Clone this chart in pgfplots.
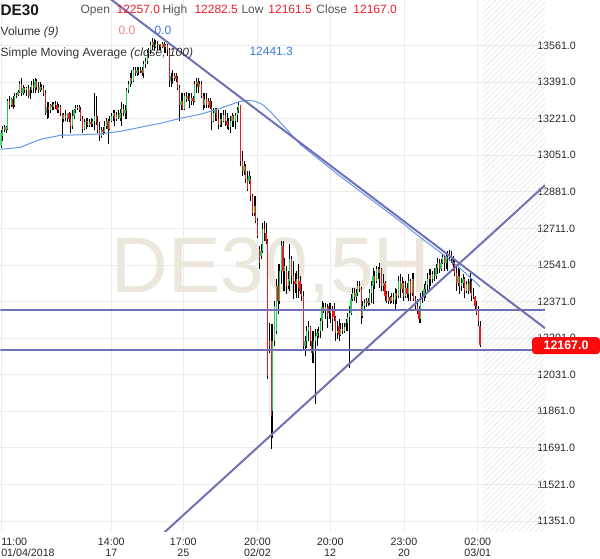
\documentclass[border=0pt]{standalone}
\usepackage{pgfplots}
\pgfplotsset{compat=1.18}
\usepackage{pgfplotstable}
\usepackage{fontspec}
\setmainfont{Liberation Sans}
\usetikzlibrary{patterns.meta}
\definecolor{cgreen}{RGB}{45,200,90}
\definecolor{cred}{RGB}{240,25,25}
\definecolor{trend}{RGB}{112,112,180}
\definecolor{sma}{RGB}{100,150,235}
\definecolor{hred}{RGB}{235,30,40}
\definecolor{hgray}{RGB}{85,85,85}
\definecolor{salmon}{RGB}{240,130,130}
\definecolor{hblue}{RGB}{60,120,220}
\definecolor{wm}{RGB}{236,231,220}
\definecolor{gridc}{RGB}{236,236,236}
\definecolor{hatch}{RGB}{228,228,228}
\definecolor{pricered}{RGB}{250,10,10}
\pgfplotstableread{
i o h l c
0 13096 13166 13086 13152
1 13142 13189 13119 13175
2 13184 13193 13161 13170
3 13170 13189 13156 13180
4 13175 13314 13166 13305
5 13305 13328 13268 13286
6 13286 13319 13277 13310
7 13310 13324 13268 13277
8 13286 13342 13277 13328
9 13333 13342 13319 13328
10 13333 13356 13324 13347
11 13347 13398 13338 13380
12 13380 13408 13328 13342
13 13342 13375 13333 13361
14 13361 13370 13338 13352
15 13352 13370 13324 13361
16 13361 13375 13319 13328
17 13328 13370 13314 13352
18 13352 13398 13338 13375
19 13375 13403 13342 13361
20 13361 13412 13342 13398
21 13398 13403 13352 13370
22 13370 13389 13342 13352
23 13352 13389 13347 13370
24 13370 13384 13352 13361
25 13361 13375 13328 13342
26 13342 13352 13240 13249
27 13249 13296 13221 13277
28 13277 13296 13226 13259
29 13259 13291 13249 13286
30 13286 13300 13259 13277
31 13277 13296 13263 13291
32 13291 13305 13268 13282
33 13282 13296 13249 13259
34 13259 13291 13249 13277
35 13277 13286 13235 13245
36 13245 13249 13133 13221
37 13221 13249 13203 13240
38 13240 13259 13212 13226
39 13226 13249 13207 13245
40 13245 13254 13203 13217
41 13217 13245 13156 13189
42 13189 13259 13175 13235
43 13235 13268 13221 13259
44 13259 13282 13249 13272
45 13272 13286 13259 13277
46 13277 13286 13254 13263
47 13263 13277 13212 13221
48 13221 13235 13156 13175
49 13175 13217 13166 13203
50 13203 13226 13175 13212
51 13212 13226 13180 13193
52 13193 13221 13180 13207
53 13207 13226 13180 13198
54 13198 13221 13180 13212
55 13212 13342 13166 13235
56 13235 13328 13193 13203
57 13203 13235 13156 13166
58 13166 13203 13119 13142
59 13142 13184 13133 13170
60 13170 13184 13147 13161
61 13161 13212 13152 13189
62 13189 13226 13175 13212
63 13212 13221 13105 13175
64 13175 13235 13166 13212
65 13212 13249 13203 13235
66 13235 13259 13212 13245
67 13245 13259 13189 13221
68 13221 13254 13212 13240
69 13240 13259 13217 13226
70 13226 13268 13212 13249
71 13249 13296 13189 13268
72 13268 13291 13235 13245
73 13245 13286 13221 13259
74 13259 13361 13221 13352
75 13352 13398 13342 13384
76 13384 13435 13370 13408
77 13408 13445 13380 13398
78 13398 13459 13389 13445
79 13445 13463 13417 13435
80 13435 13459 13421 13449
81 13449 13463 13426 13440
82 13440 13459 13431 13445
83 13445 13463 13421 13431
84 13431 13491 13408 13473
85 13473 13505 13454 13491
86 13491 13538 13477 13524
87 13524 13547 13505 13538
88 13538 13575 13519 13561
89 13561 13594 13538 13575
90 13575 13589 13538 13556
91 13556 13584 13547 13570
92 13570 13580 13538 13561
93 13561 13570 13538 13566
94 13566 13570 13542 13556
95 13556 13575 13547 13566
96 13566 13575 13528 13552
97 13552 13570 13524 13561
98 13561 13570 13514 13538
99 13538 13547 13366 13398
100 13398 13435 13366 13417
101 13417 13445 13384 13408
102 13408 13431 13398 13417
103 13417 13431 13389 13403
104 13403 13421 13352 13361
105 13361 13375 13212 13282
106 13282 13342 13259 13305
107 13305 13342 13259 13268
108 13268 13342 13259 13324
109 13324 13347 13296 13314
110 13314 13342 13305 13328
111 13328 13338 13272 13305
112 13305 13338 13282 13319
113 13319 13328 13282 13305
114 13305 13398 13296 13380
115 13380 13408 13342 13389
116 13389 13408 13342 13370
117 13370 13398 13366 13384
118 13384 13398 13319 13328
119 13328 13342 13259 13282
120 13282 13342 13272 13314
121 13314 13338 13272 13286
122 13286 13319 13272 13305
123 13305 13319 13268 13277
124 13277 13305 13166 13212
125 13212 13272 13203 13249
126 13249 13272 13212 13259
127 13259 13272 13212 13221
128 13221 13259 13175 13193
129 13193 13249 13180 13221
130 13221 13249 13180 13212
131 13212 13259 13203 13240
132 13240 13259 13189 13212
133 13212 13249 13175 13193
134 13193 13226 13166 13184
135 13184 13235 13156 13212
136 13212 13245 13180 13231
137 13231 13240 13180 13212
138 13212 13249 13175 13240
139 13240 13277 13203 13259
140 13259 13296 13249 13282
141 13282 13286 13003 13026
142 13026 13072 12956 12979
143 12979 13026 12961 13003
144 13003 13012 12924 12942
145 12942 12979 12886 12896
146 12933 12979 12919 12956
147 12942 12956 12840 12863
148 12863 12872 12770 12784
149 12784 12863 12770 12817
150 12817 12863 12738 12747
151 12747 12761 12668 12677
152 12617 12631 12523 12551
153 12584 12640 12570 12607
154 12607 12738 12598 12710
155 12710 12747 12654 12691
156 12691 12738 12640 12654
157 12654 12663 12012 12026
158 12189 12272 12133 12165
159 12189 12268 11686 11840
160 11863 12268 11737 12189
161 12189 12375 12165 12351
162 12235 12477 12221 12444
163 12444 12547 12314 12375
164 12375 12547 12361 12514
165 12514 12654 12454 12631
166 12631 12654 12421 12514
167 12514 12575 12421 12537
168 12514 12537 12407 12444
169 12444 12514 12430 12477
170 12468 12640 12421 12570
171 12570 12584 12454 12491
172 12491 12561 12384 12468
173 12468 12505 12412 12454
174 12454 12514 12388 12477
175 12477 12547 12388 12435
176 12468 12491 12407 12421
177 12421 12454 12375 12398
178 12398 12421 12142 12165
179 12165 12212 12119 12189
180 12189 12258 12156 12235
181 12235 12282 12189 12254
182 12254 12258 12165 12189
183 12189 12235 12086 12133
184 12133 12235 12086 12189
185 12189 12244 11895 12212
186 12212 12244 12165 12226
187 12226 12254 12202 12235
188 12235 12295 12202 12282
189 12282 12375 12235 12347
190 12347 12365 12319 12333
191 12333 12365 12291 12347
192 12347 12361 12249 12305
193 12351 12365 12291 12319
194 12319 12365 12272 12337
195 12337 12351 12235 12291
196 12328 12365 12282 12300
197 12300 12305 12189 12226
198 12226 12282 12198 12235
199 12258 12291 12189 12216
200 12216 12272 12212 12244
201 12244 12272 12221 12235
202 12235 12272 12226 12254
203 12254 12291 12235 12272
204 12272 12319 12235 12300
205 12300 12351 12063 12319
206 12319 12407 12309 12384
207 12384 12435 12375 12412
208 12412 12435 12375 12393
209 12393 12430 12365 12412
210 12412 12468 12398 12444
211 12444 12468 12416 12430
212 12430 12440 12268 12305
213 12305 12375 12295 12351
214 12351 12384 12337 12365
215 12365 12388 12347 12375
216 12375 12388 12351 12365
217 12365 12430 12356 12412
218 12412 12468 12365 12444
219 12444 12528 12361 12491
220 12491 12514 12430 12468
221 12468 12537 12458 12523
222 12523 12533 12477 12505
223 12505 12551 12435 12523
224 12523 12528 12421 12444
225 12444 12500 12421 12458
226 12458 12468 12375 12398
227 12407 12421 12365 12375
228 12375 12421 12361 12393
229 12393 12398 12361 12375
230 12375 12412 12365 12393
231 12393 12412 12361 12379
232 12379 12435 12328 12412
233 12412 12430 12361 12398
234 12398 12491 12388 12468
235 12468 12500 12388 12430
236 12430 12486 12412 12458
237 12458 12468 12375 12398
238 12398 12468 12388 12435
239 12435 12458 12388 12407
240 12407 12500 12375 12468
241 12468 12477 12375 12412
242 12412 12505 12398 12477
243 12477 12505 12375 12384
244 12384 12398 12337 12351
245 12351 12384 12314 12328
246 12328 12351 12272 12291
247 12291 12412 12272 12388
248 12388 12421 12365 12398
249 12398 12454 12375 12430
250 12430 12468 12388 12449
251 12449 12505 12421 12477
252 12477 12523 12421 12496
253 12496 12523 12444 12477
254 12477 12514 12458 12500
255 12500 12528 12468 12491
256 12491 12547 12477 12528
257 12528 12575 12500 12551
258 12551 12570 12505 12523
259 12523 12570 12514 12551
260 12551 12593 12547 12579
261 12579 12589 12514 12551
262 12551 12598 12523 12584
263 12584 12607 12514 12593
264 12593 12612 12561 12589
265 12589 12607 12551 12570
266 12570 12584 12514 12542
267 12542 12570 12491 12505
268 12505 12537 12421 12458
269 12458 12528 12444 12491
270 12491 12523 12407 12444
271 12444 12482 12421 12458
272 12458 12500 12435 12477
273 12477 12486 12388 12421
274 12421 12468 12412 12454
275 12454 12477 12407 12421
276 12421 12505 12412 12468
277 12468 12477 12375 12398
278 12398 12435 12384 12393
279 12393 12398 12328 12351
280 12351 12375 12309 12319
281 12328 12351 12258 12282
282 12257 12282.5 12161.5 12167
}\candles
\begin{document}
\begin{tikzpicture}[x=0.75pt,y=-0.75pt]
\begin{axis}[
  at={(0,0)}, anchor=north west,
  scale only axis, width=408.75pt, height=398.25pt,
  xmin=-0.353, xmax=320.24, ymin=11304.5, ymax=13770.3,
  set layers,
  axis line style={draw=none}, tick style={draw=none},
  major tick length=0pt,
  scaled y ticks=false, scaled x ticks=false,
  grid=major, major grid style={color=gridc, line width=0.6pt},
  xtick={64.94,107.29,150.94,193.76,237.18,280.65},
  xticklabels={{14:00\\17},{17:00\\25},{20:00\\02/02},{20:00\\12},{23:00\\20},{02:00\\03/01}},
  extra x ticks={0},
  extra x tick labels={{11:00\\01/04/2018}},
  extra x tick style={grid=major, xticklabel style={anchor=north west, align=left}},
  xticklabel style={align=center, anchor=north, inner sep=0pt, yshift=-5.25pt},
  ytick={11351,11521,11691,11861,12031,12201,12371,12541,12711,12881,13051,13221,13391,13561},
  yticklabels={11351.0,11521.0,11691.0,11861.0,12031.0,12201.0,12371.0,12541.0,12711.0,12881.0,13051.0,13221.0,13391.0,13561.0},
  yticklabel pos=right,
  yticklabel style={anchor=west, inner sep=0pt, xshift=-6pt},
  tick label style={font=\fontsize{8}{8.25}\selectfont, text=black!85},
]
\begin{pgfonlayer}{pre main}
\fill[pattern={Lines[angle=45,distance=3pt,line width=0.45pt]}, pattern color=hatch]
  (axis cs:283.76,11304.5) rectangle (axis cs:320.24,13770.3);
\node[text=wm, font=\fontsize{59}{62}\selectfont, inner sep=0pt, anchor=base] at (axis cs:159.06,12414) {DE30,5H};
\end{pgfonlayer}
% wicks
\addplot[draw=none, mark=none, forget plot,
  error bars/.cd, y dir=plus, y explicit, error mark=none,
  error bar style={draw=black, solid, line width=0.55pt}]
  table[x=i, y=l, y error expr=\thisrow{h}-\thisrow{l}] {\candles};
% up bodies
\addplot[draw=none, mark=none, forget plot,
  restrict expr to domain={\thisrow{c}-\thisrow{o}}{0:100000},
  error bars/.cd, y dir=plus, y explicit, error mark=none,
  error bar style={draw=cgreen, solid, line width=0.9pt}]
  table[x=i, y=o, y error expr=\thisrow{c}-\thisrow{o}] {\candles};
% down bodies
\addplot[draw=none, mark=none, forget plot,
  restrict expr to domain={\thisrow{o}-\thisrow{c}}{0.001:100000},
  error bars/.cd, y dir=plus, y explicit, error mark=none,
  error bar style={draw=cred, solid, line width=0.9pt}]
  table[x=i, y=c, y error expr=\thisrow{o}-\thisrow{c}] {\candles};
% simple moving average (close, 100)
\addplot[sma, line width=0.75pt, mark=none] coordinates {
(0,13078.4) (11.41,13087.7) (17.29,13106.3) (23.18,13124.8) (29.06,13134.1)
(34.94,13143.4) (46.71,13145.7) (58.47,13150.4) (70.24,13162.0) (82.0,13180.6)
(93.76,13199.1) (105.53,13222.4) (117.29,13240.9) (129.06,13268.8) (140.82,13301.3)
(145.53,13305.9) (149.65,13301.3) (153.76,13287.4) (158.47,13254.9) (164.35,13203.8)
(170.24,13152.7) (176.12,13101.6) (187.88,13027.3) (199.65,12953.0) (211.41,12883.4)
(223.18,12813.7) (234.94,12744.1) (246.71,12669.6) (258.47,12600.3) (270.24,12525.8)
(282.0,12441.3)};
% drawn trend lines
\addplot[trend, line width=1.5pt, mark=none] coordinates {(40,13923) (320.24,12247.2)};
\addplot[trend, line width=1.5pt, mark=none] coordinates {(87.88,11238.6) (320.24,12911.2)};
\addplot[trend, line width=1.5pt, mark=none] coordinates {(-0.353,12331) (320.24,12331)};
\addplot[trend, line width=1.5pt, mark=none] coordinates {(-0.353,12147) (320.24,12147)};
\end{axis}
% header
\node[anchor=base west, inner sep=0pt, font=\bfseries\fontsize{11.5}{12}\selectfont, text=black!90] at (0,15) {DE30};
\begin{scope}[every node/.style={anchor=base west, inner sep=0pt, font=\fontsize{9}{10}\selectfont}]
\node[text=hgray] at (80,13.5) {Open};
\node[text=hred] at (116,13) {12257.0};
\node[text=hgray] at (162,13.5) {High};
\node[text=hred] at (194,13) {12282.5};
\node[text=hgray] at (241,13.5) {Low};
\node[text=hred] at (268,13) {12161.5};
\node[text=hgray] at (316,13.5) {Close};
\node[text=hred] at (353,13) {12167.0};
\node[text=black!80] at (0,35) {Volume \textit{(9)}};
\node[text=salmon] at (118,34) {0.0};
\node[text=hblue] at (154,34) {0.0};
\node[text=black!80] at (0,56) {Simple Moving Average \textit{(close, 100)}};
\node[text=hblue] at (249,55.5) {12441.3};
\end{scope}
% last price label
\fill[pricered, rounded corners=2.5] (532,337) -- (600,337) -- (600,354) -- (532,354) -- cycle;
\node[text=white, inner sep=0pt, font=\bfseries\fontsize{9.3}{10}\selectfont] at (566,345.5) {12167.0};
\path (0,0) rectangle (600,558);
\end{tikzpicture}
\end{document}
